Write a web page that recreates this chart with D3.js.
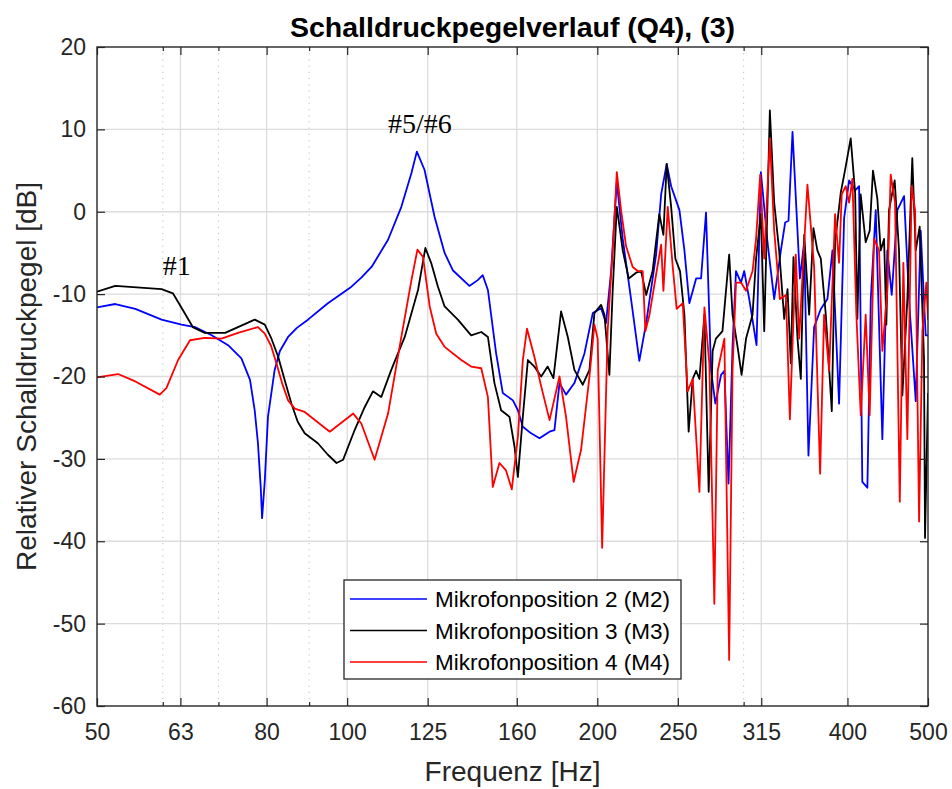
<!DOCTYPE html>
<html><head><meta charset="utf-8">
<script src="https://cdn.jsdelivr.net/npm/d3@7"></script>
<style>body{margin:0;background:#fff} svg{display:block}</style>
</head><body><svg id="c" width="952" height="789"></svg>
<script>
const title = "Schalldruckpegelverlauf (Q4), (3)";
const xLabel = "Frequenz [Hz]";
const yLabel = "Relativer Schalldruckpegel [dB]";
const xTicks = [50,63,80,100,125,160,200,250,315,400,500];
const xMinor = [60,70,90,300];
const yTicks = [-60,-50,-40,-30,-20,-10,0,10,20];
const seriesNames = ["Mikrofonposition 2 (M2)","Mikrofonposition 3 (M3)","Mikrofonposition 4 (M4)"];
const seriesColors = ["#0000ff","#000000","#ff0000"];
const annotations = [{text:"#1", f:60, db:-7.7}, {text:"#5/#6", f:112, db:9.6}];

// [frequency Hz, level dB]
const m2 = [[50,-11.6],[52.6,-11.2],[55.6,-11.8],[59.8,-13.1],[63.2,-13.7],[65.6,-14.0],[68.7,-15.0],[71.9,-16.2],[74.6,-17.8],[76.4,-20.4],[77.4,-24.1],[78.1,-28.1],[78.7,-33.4],[79.0,-37.2],[79.6,-32.6],[80.3,-24.9],[81.8,-19.2],[83.0,-16.9],[84.9,-15.2],[87.0,-14.1],[89.7,-13.1],[94.8,-11.1],[101.2,-9.1],[104.0,-8.0],[107.0,-6.7],[112.0,-3.4],[116.2,0.6],[119.5,4.7],[121.3,7.3],[123.9,5.1],[127.4,-0.6],[131.0,-5.0],[134.0,-7.1],[140.3,-9.0],[143.6,-8.3],[145.6,-7.7],[147.7,-9.5],[151.1,-17.2],[153.9,-22.0],[158.3,-22.9],[160.5,-24.1],[162.7,-26.1],[166.5,-26.9],[170.4,-27.5],[175.2,-26.7],[177.6,-26.5],[180.1,-20.8],[183.4,-22.2],[187.7,-20.8],[193.0,-17.2],[197.5,-12.3],[202.1,-11.7],[204.9,-13.5],[207.8,-7.2],[211.1,3.6],[214.6,-3.3],[219.6,-10.6],[224.7,-18.1],[229.0,-13.5],[235.4,-5.2],[238.7,2.1],[242.4,5.8],[245.4,3.1],[251.1,0.2],[254.6,-4.7],[258.1,-11.1],[263.0,-8.1],[266.6,-8.1],[270.3,-0.1],[274.1,-19.3],[277.4,-23.3],[281.8,-19.8],[284.4,-19.3],[287.7,-33.0],[290.9,-16.4],[293.7,-7.2],[297.8,-8.6],[300.5,-7.2],[304.7,-10.6],[310.9,-16.2],[314.7,4.8],[320.5,-3.7],[326.5,-10.6],[332.6,-4.7],[336.6,-1.3],[339.7,-1.1],[343.5,9.7],[350.6,-8.1],[354.8,-3.7],[359.0,-29.6],[364.7,-14.0],[371.5,-11.8],[378.4,-10.6],[383.7,-4.7],[390.8,-23.3],[396.3,-0.8],[401.8,3.8],[408.6,2.6],[413.1,3.1],[416.8,-32.8],[422.7,-33.5],[426.7,-10.6],[432.6,0.2],[440.6,-27.6],[446.7,-4.7],[452.2,-10.1],[459.3,0.2],[467.9,1.9],[474.4,-10.6],[483.3,-23.0],[490.0,-2.3],[496.8,-15.0],[500,-15.0]];

const m3 = [[50,-9.7],[52.6,-9.0],[59.8,-9.4],[61.7,-9.9],[63.4,-11.9],[65.2,-14.0],[67.4,-14.7],[71.3,-14.7],[73.9,-14.0],[77.4,-13.1],[79.6,-13.7],[81.0,-15.3],[82.6,-17.6],[84.2,-20.6],[85.7,-23.3],[87.2,-25.5],[88.9,-26.9],[92.2,-28.1],[94.8,-29.5],[97.1,-30.5],[98.9,-30.1],[102.1,-26.5],[105.0,-23.7],[107.4,-21.8],[109.9,-22.5],[113.0,-19.2],[117.3,-15.2],[121.7,-9.5],[124.2,-4.4],[126.3,-6.3],[128.6,-9.1],[131.0,-11.5],[135.9,-13.1],[141.0,-15.0],[145.0,-14.6],[147.7,-15.2],[150.4,-20.8],[153.2,-24.1],[156.8,-24.9],[159.0,-28.5],[160.5,-32.2],[162.7,-24.9],[165.0,-18.0],[168.0,-18.8],[171.2,-20.0],[174.3,-18.8],[177.1,-20.2],[180.9,-12.1],[184.3,-15.2],[187.7,-19.2],[192.1,-21.0],[195.7,-19.2],[198.4,-12.3],[202.1,-11.3],[204.0,-12.5],[206.8,-19.8],[208.7,-9.6],[211.1,0.6],[214.6,-4.7],[218.2,-8.1],[222.7,-7.4],[225.8,-7.2],[229.0,-10.1],[233.1,-7.2],[237.5,-0.3],[240.2,-2.8],[242.4,5.8],[245.4,0.6],[248.3,-5.7],[251.5,-7.2],[254.6,-12.5],[257.6,-26.7],[260.5,-20.3],[263.0,-19.3],[265.4,-20.3],[269.1,-12.5],[272.3,-34.0],[275.3,-16.9],[277.8,-15.4],[282.9,-14.5],[288.2,-5.2],[290.9,-12.5],[295.0,-16.4],[298.3,-19.8],[302.0,-15.4],[307.5,-12.5],[310.5,-5.7],[314.7,-0.3],[317.6,-14.5],[322.6,12.3],[326.5,1.1],[331.0,-4.7],[335.7,-13.0],[338.8,-9.4],[341.9,-18.4],[344.4,-5.5],[348.3,-15.4],[351.5,-20.3],[354.8,-2.8],[359.7,-12.5],[364.0,-2.0],[368.0,-4.7],[371.5,-5.7],[376.7,-12.5],[383.0,-24.2],[386.5,-3.7],[392.6,2.3],[398.1,5.5],[403.6,8.9],[408.6,2.3],[411.1,-13.0],[414.9,2.1],[420.7,-3.7],[425.4,-2.3],[429.3,5.0],[434.5,1.6],[438.6,-4.7],[442.7,-3.3],[445.5,-13.7],[448.8,0.2],[455.9,3.8],[461.4,-4.7],[465.7,-22.3],[472.2,-10.6],[478.7,6.5],[483.3,-4.7],[488.6,-1.8],[494.5,-17.9],[495.9,-39.6],[500,-22.0]];

const m4 = [[50,-20.1],[53.0,-19.7],[55.6,-20.6],[59.5,-22.2],[60.6,-21.4],[62.6,-18.0],[64.7,-15.6],[67.4,-15.3],[70.6,-15.4],[73.9,-14.7],[78.1,-14.0],[79.6,-14.8],[81.0,-16.3],[82.2,-18.4],[83.5,-20.8],[84.9,-22.9],[86.5,-23.9],[88.9,-24.3],[95.3,-26.7],[101.7,-24.5],[104.0,-25.7],[107.9,-30.1],[112.0,-24.5],[116.2,-15.2],[119.5,-8.3],[121.5,-4.6],[123.4,-5.5],[125.7,-11.5],[128.0,-14.8],[131.0,-16.4],[137.2,-18.0],[141.0,-18.8],[145.0,-19.0],[147.7,-22.5],[149.7,-33.4],[152.5,-30.5],[155.3,-31.4],[157.8,-33.7],[160.5,-27.3],[162.7,-18.0],[164.6,-14.2],[168.0,-17.6],[171.2,-21.2],[175.2,-25.3],[180.1,-20.0],[183.4,-24.9],[187.3,-32.8],[191.2,-28.9],[195.7,-20.0],[198.4,-13.7],[200.2,-15.4],[202.7,-40.8],[205.8,-14.5],[208.7,-4.7],[211.1,4.8],[213.6,0.2],[216.6,-4.2],[220.6,-6.7],[223.7,-7.2],[226.8,-7.2],[228.5,-14.5],[231.1,-12.5],[235.4,-7.6],[238.7,-4.0],[240.2,-9.6],[243.1,0.6],[246.5,-6.7],[249.2,-11.8],[253.4,-11.1],[256.9,-21.8],[260.5,-20.3],[265.4,-34.0],[269.1,-11.6],[272.8,-18.4],[276.6,-47.6],[279.2,-19.3],[284.4,-15.4],[288.2,-54.4],[290.9,-19.3],[293.7,-8.6],[297.8,-8.6],[302.0,-9.6],[307.5,-7.2],[310.5,-3.3],[314.1,4.5],[317.6,-5.7],[322.6,8.9],[326.5,-2.3],[331.7,-10.6],[337.3,-10.1],[341.0,-25.2],[346.6,-5.2],[349.9,-15.4],[353.8,-6.2],[358.0,3.3],[364.7,-6.7],[370.8,-31.8],[374.9,-12.5],[380.2,-19.3],[386.5,-0.3],[390.8,-6.2],[393.7,2.1],[398.1,3.1],[401.8,1.1],[405.5,4.0],[410.0,-12.5],[415.0,-24.7],[420.7,-12.5],[425.4,-24.7],[430.6,-3.3],[436.6,-4.7],[440.6,-16.9],[446.7,-9.6],[450.9,4.5],[456.4,1.1],[462.4,-35.2],[467.0,-6.2],[472.2,-27.6],[477.9,3.1],[482.4,0.2],[487.8,-37.6],[492.3,-14.5],[497.7,-8.6],[500,-13.1]];

const series = [m2, m3, m4];

const L = 97, R = 928, T = 47, B = 706;
const axisColor = "#262626";
const font = "'Liberation Sans', Arial, Helvetica, sans-serif";

const svg = d3.select("#c");
const x = d3.scaleLog().domain([50,500]).range([L,R]);
const y = d3.scaleLinear().domain([-60,20]).range([B,T]);

svg.append("rect").attr("x",L).attr("y",T).attr("width",R-L).attr("height",B-T).attr("fill","#fff");

// grid
const grid = svg.append("g");
grid.selectAll("line.mx").data(xMinor).join("line")
  .attr("x1",d=>x(d)).attr("x2",d=>x(d)).attr("y1",T).attr("y2",B)
  .attr("stroke","#bdbdbd").attr("stroke-width",1).attr("stroke-dasharray","1.2,5");
grid.selectAll("line.gx").data(xTicks.slice(1,-1)).join("line")
  .attr("x1",d=>x(d)).attr("x2",d=>x(d)).attr("y1",T).attr("y2",B)
  .attr("stroke","#dcdcdc").attr("stroke-width",1.3);
grid.selectAll("line.gy").data(yTicks.slice(1,-1)).join("line")
  .attr("x1",L).attr("x2",R).attr("y1",d=>y(d)).attr("y2",d=>y(d))
  .attr("stroke","#dcdcdc").attr("stroke-width",1.3);

// data lines
const line = d3.line().x(d=>x(d[0])).y(d=>y(d[1]));
svg.append("clipPath").attr("id","clip").append("rect")
  .attr("x",L).attr("y",T).attr("width",R-L).attr("height",B-T);
const lines = svg.append("g").attr("clip-path","url(#clip)");
series.forEach((s,i)=>{
  lines.append("path").datum(s).attr("d",line)
    .attr("fill","none").attr("stroke",seriesColors[i]).attr("stroke-width",1.8)
    .attr("stroke-linejoin","round");
});

// axes
function styleAxis(g){
  g.select(".domain").remove();
  g.selectAll(".tick line").attr("stroke",axisColor).attr("stroke-width",1.2);
  g.selectAll(".tick text").attr("fill",axisColor).attr("font-family",font).attr("font-size","23px");
}
const xAxisB = d3.axisBottom(x).tickValues(xTicks).tickFormat(d=>String(d)).tickSizeInner(-8).tickSizeOuter(0).tickPadding(18);
svg.append("g").attr("transform",`translate(0,${B})`).call(xAxisB).call(styleAxis);
const xAxisT = d3.axisTop(x).tickValues(xTicks).tickFormat("").tickSizeInner(-8).tickSizeOuter(0);
svg.append("g").attr("transform",`translate(0,${T})`).call(xAxisT).call(styleAxis);
const xMinB = d3.axisBottom(x).tickValues(xMinor).tickFormat("").tickSizeInner(-4).tickSizeOuter(0);
svg.append("g").attr("transform",`translate(0,${B})`).call(xMinB).call(styleAxis);
const xMinT = d3.axisTop(x).tickValues(xMinor).tickFormat("").tickSizeInner(-4).tickSizeOuter(0);
svg.append("g").attr("transform",`translate(0,${T})`).call(xMinT).call(styleAxis);
const yAxisL = d3.axisLeft(y).tickValues(yTicks).tickFormat(d=>String(d)).tickSizeInner(-8).tickSizeOuter(0).tickPadding(11);
svg.append("g").attr("transform",`translate(${L},0)`).call(yAxisL).call(styleAxis);
const yAxisR = d3.axisRight(y).tickValues(yTicks).tickFormat("").tickSizeInner(-8).tickSizeOuter(0);
svg.append("g").attr("transform",`translate(${R},0)`).call(yAxisR).call(styleAxis);

svg.append("rect").attr("x",L).attr("y",T).attr("width",R-L).attr("height",B-T)
  .attr("fill","none").attr("stroke",axisColor).attr("stroke-width",1.4);

// labels
svg.append("text").attr("x",(L+R)/2).attr("y",36.5).attr("text-anchor","middle")
  .attr("font-family",font).attr("font-weight","bold").attr("font-size","28.5px").attr("fill","#000").text(title);
svg.append("text").attr("x",(L+R)/2).attr("y",781).attr("text-anchor","middle")
  .attr("font-family",font).attr("font-size","28px").attr("fill",axisColor).text(xLabel);
svg.append("text").attr("transform",`translate(36,${(T+B)/2}) rotate(-90)`).attr("text-anchor","middle")
  .attr("font-family",font).attr("font-size","28px").attr("fill",axisColor).text(yLabel);

// annotations
svg.selectAll("text.ann").data(annotations).join("text")
  .attr("x",d=>x(d.f)).attr("y",d=>y(d.db))
  .attr("font-family","'Liberation Serif', 'Times New Roman', serif").attr("font-size","28px").attr("fill","#000")
  .text(d=>d.text);

// legend
const lg = svg.append("g").attr("transform","translate(344,580)");
lg.append("rect").attr("width",337).attr("height",99).attr("fill","#fff").attr("stroke",axisColor).attr("stroke-width",1.3);
seriesNames.forEach((n,i)=>{
  const yy = 19 + i*31.5;
  lg.append("line").attr("x1",6).attr("x2",83).attr("y1",yy).attr("y2",yy).attr("stroke",seriesColors[i]).attr("stroke-width",1.6);
  lg.append("text").attr("x",91).attr("y",yy).attr("dy","0.36em").attr("font-family",font).attr("font-size","22.5px").attr("fill","#000").text(n);
});
</script></body></html>
